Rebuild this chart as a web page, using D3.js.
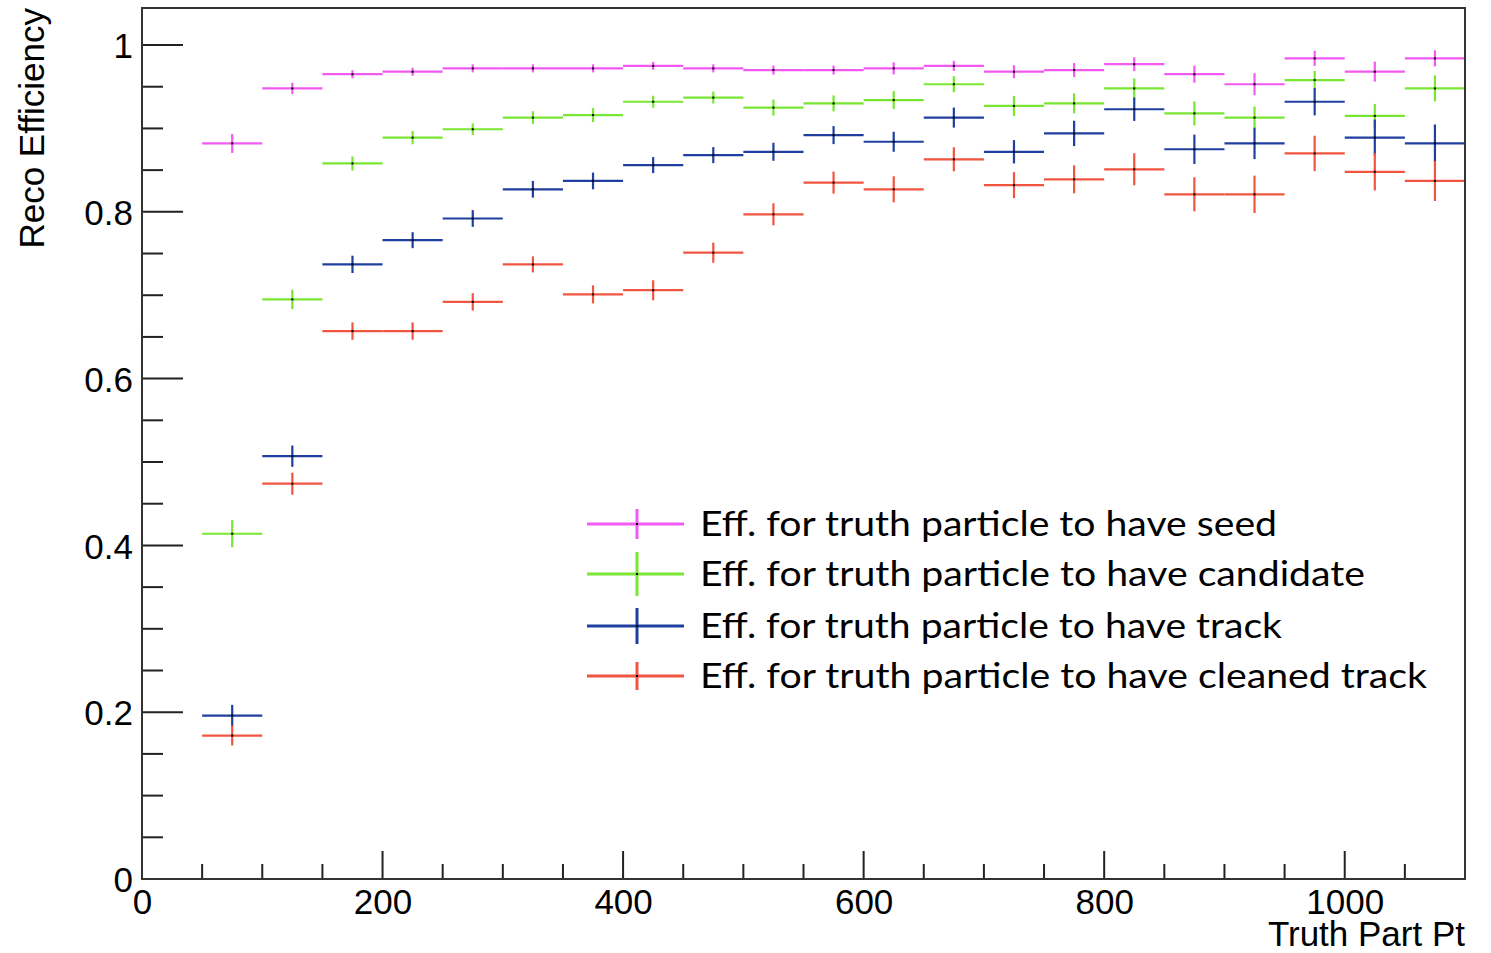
<!DOCTYPE html>
<html>
<head>
<meta charset="utf-8">
<script src="https://cdnjs.cloudflare.com/ajax/libs/d3/7.8.5/d3.min.js"></script>
<style>
  body { margin: 0; background: #fff; }
  .axis text { font-family: "Liberation Sans", Arial, sans-serif; font-size: 35px; fill: #000; }
</style>
</head>
<body>
<svg width="1491" height="953"></svg>
<script>
// Lower edge of each Pt bin (bins are 50 wide)
var binLow = [50, 100, 150, 200, 250, 300, 350, 400, 450, 500, 550, 600, 650, 700, 750, 800, 850, 900, 950, 1000, 1050];
var binWidth = 50;

// Efficiencies
var seedEff = [0.882, 0.948, 0.965, 0.968, 0.972, 0.972, 0.972, 0.975, 0.972, 0.970, 0.970, 0.972, 0.975, 0.968, 0.970, 0.977, 0.965, 0.953, 0.984, 0.968, 0.984];
var seedErr = [0.0114, 0.0068, 0.0048, 0.0048, 0.0048, 0.0048, 0.0048, 0.0048, 0.0048, 0.0054, 0.0054, 0.0072, 0.006, 0.0078, 0.0084, 0.0084, 0.0102, 0.0132, 0.009, 0.012, 0.0096];

var candEff = [0.414, 0.695, 0.858, 0.889, 0.899, 0.913, 0.916, 0.932, 0.937, 0.925, 0.930, 0.934, 0.953, 0.927, 0.930, 0.948, 0.918, 0.913, 0.958, 0.915, 0.948];
var candErr = [0.0162, 0.0116, 0.0084, 0.008, 0.007, 0.0076, 0.0084, 0.0072, 0.0072, 0.0096, 0.0096, 0.0108, 0.0096, 0.012, 0.012, 0.012, 0.0144, 0.0132, 0.0108, 0.0144, 0.0156];

var trackEff = [0.196, 0.507, 0.737, 0.766, 0.792, 0.827, 0.837, 0.856, 0.868, 0.872, 0.892, 0.884, 0.913, 0.872, 0.894, 0.923, 0.875, 0.882, 0.932, 0.889, 0.882];
var trackErr = [0.0128, 0.0128, 0.0104, 0.0096, 0.01, 0.01, 0.01, 0.0096, 0.0096, 0.0108, 0.0108, 0.012, 0.012, 0.014, 0.0152, 0.014, 0.0176, 0.0188, 0.0164, 0.0216, 0.0228];

var cleanEff = [0.172, 0.474, 0.657, 0.657, 0.692, 0.737, 0.701, 0.706, 0.751, 0.797, 0.835, 0.827, 0.863, 0.832, 0.839, 0.851, 0.821, 0.821, 0.870, 0.848, 0.837];
var cleanErr = [0.012, 0.0132, 0.0104, 0.0104, 0.0104, 0.0096, 0.0108, 0.012, 0.012, 0.0132, 0.0132, 0.0156, 0.0144, 0.0156, 0.0168, 0.0192, 0.0204, 0.0224, 0.0212, 0.0224, 0.024];

var seriesNames = [
    "Eff. for truth particle to have seed",
    "Eff. for truth particle to have candidate",
    "Eff. for truth particle to have track",
    "Eff. for truth particle to have cleaned track"
];
var seriesColors = ["#f25af2", "#78e632", "#1e3fa0", "#f05540"];

var xTicks = [0, 200, 400, 600, 800, 1000];
var yTicks = [0, 0.2, 0.4, 0.6, 0.8, 1];

// Frame geometry
var svg = d3.select("svg"),
    margin = { top: 8, right: 26, bottom: 74, left: 142 },
    width = +svg.attr("width") - margin.left - margin.right,
    height = +svg.attr("height") - margin.top - margin.bottom;

var x = d3.scaleLinear().domain([0, 1100]).range([0, width]),
    y = d3.scaleLinear().domain([0, 1.0444]).range([height, 0]);

var g = svg.append("g")
    .attr("transform", "translate(" + margin.left + "," + margin.top + ")");

// minor ticks (ROOT style, pointing inward)
var xMinor = d3.range(0, 1101, 50);
var yMinor = d3.range(0, 1.0001, 0.05);

g.selectAll(".xminor")
    .data(xMinor)
    .enter().append("line")
    .attr("x1", function(d) { return x(d); })
    .attr("x2", function(d) { return x(d); })
    .attr("y1", height)
    .attr("y2", function(d) { return d % 200 === 0 ? height - 28 : height - 15; })
    .attr("stroke", "#222")
    .attr("stroke-width", 2);

g.selectAll(".yminor")
    .data(yMinor)
    .enter().append("line")
    .attr("y1", function(d) { return y(d); })
    .attr("y2", function(d) { return y(d); })
    .attr("x1", 0)
    .attr("x2", function(d) { return Math.abs(d * 5 - Math.round(d * 5)) < 1e-6 ? 41 : 21; })
    .attr("stroke", "#222")
    .attr("stroke-width", 2);

// tick labels via the d3 axes, with the tick lines hidden
var xAxis = d3.axisBottom(x).tickValues(xTicks).tickSize(0).tickPadding(8).tickFormat(d3.format("d"));
var yAxis = d3.axisLeft(y).tickValues(yTicks).tickSize(0).tickPadding(9).tickFormat(function(d) { return d === 0 ? "0" : d3.format("~g")(d); });

var gx = g.append("g")
    .attr("class", "axis")
    .attr("transform", "translate(0," + height + ")")
    .call(xAxis);
gx.select(".domain").remove();
gx.selectAll("text").attr("dy", "0.78em");

var gy = g.append("g")
    .attr("class", "axis")
    .call(yAxis);
gy.select(".domain").remove();
gy.selectAll("text").attr("dy", "0.36em");

// Data series: horizontal bar = bin width, vertical bar = error
var series = [
    { eff: seedEff, err: seedErr },
    { eff: candEff, err: candErr },
    { eff: trackEff, err: trackErr },
    { eff: cleanEff, err: cleanErr }
];

series.forEach(function(s, k) {
    var pts = binLow.map(function(lo, i) { return { lo: lo, v: s.eff[i], e: s.err[i] }; });
    var grp = g.append("g").attr("stroke", seriesColors[k]).attr("stroke-width", 2.2);

    grp.selectAll(".h")
        .data(pts)
        .enter().append("line")
        .attr("x1", function(d) { return x(d.lo); })
        .attr("x2", function(d) { return x(d.lo + binWidth); })
        .attr("y1", function(d) { return y(d.v); })
        .attr("y2", function(d) { return y(d.v); });

    grp.selectAll(".v")
        .data(pts)
        .enter().append("line")
        .attr("x1", function(d) { return x(d.lo + binWidth / 2); })
        .attr("x2", function(d) { return x(d.lo + binWidth / 2); })
        .attr("y1", function(d) { return y(d.v - d.e); })
        .attr("y2", function(d) { return y(d.v + d.e); });

    g.append("g").selectAll("rect")
        .data(pts)
        .enter().append("rect")
        .attr("x", function(d) { return x(d.lo + binWidth / 2) - 1; })
        .attr("y", function(d) { return y(d.v) - 1; })
        .attr("width", 2)
        .attr("height", 2)
        .attr("fill", "#000");
});

// Frame
g.append("rect")
    .attr("width", width)
    .attr("height", height)
    .attr("fill", "none")
    .attr("stroke", "#333")
    .attr("stroke-width", 2);

// Axis titles
svg.append("text")
    .attr("transform", "translate(44," + margin.top + ") rotate(-90)")
    .attr("text-anchor", "end")
    .style("font-family", "Liberation Sans, Arial, sans-serif")
    .style("font-size", "35px")
    .text("Reco Efficiency");

svg.append("text")
    .attr("x", margin.left + width)
    .attr("y", 946)
    .attr("text-anchor", "end")
    .style("font-family", "Liberation Sans, Arial, sans-serif")
    .style("font-size", "35px")
    .text("Truth Part Pt");

// Legend
var legY = [524, 574, 626, 676];
var legBar = [15, 22, 18, 14];
var legLen = [577, 665, 582, 727];
var legend = svg.append("g");

seriesNames.forEach(function(name, k) {
    var row = legend.append("g").attr("transform", "translate(0," + legY[k] + ")");
    row.append("line")
        .attr("x1", 587).attr("x2", 684).attr("y1", 0).attr("y2", 0)
        .attr("stroke", seriesColors[k]).attr("stroke-width", 3);
    row.append("line")
        .attr("x1", 637).attr("x2", 637).attr("y1", -legBar[k]).attr("y2", legBar[k])
        .attr("stroke", seriesColors[k]).attr("stroke-width", 3);
    row.append("rect")
        .attr("x", 636).attr("y", -1).attr("width", 2).attr("height", 2).attr("fill", "#000");
    row.append("text")
        .attr("x", 700)
        .attr("y", 12)
        .attr("textLength", legLen[k])
        .attr("lengthAdjust", "spacingAndGlyphs")
        .style("font-family", "Lato, 'Open Sans', sans-serif")
        .style("font-size", "35px")
        .text(name);
});
</script>
</body>
</html>
